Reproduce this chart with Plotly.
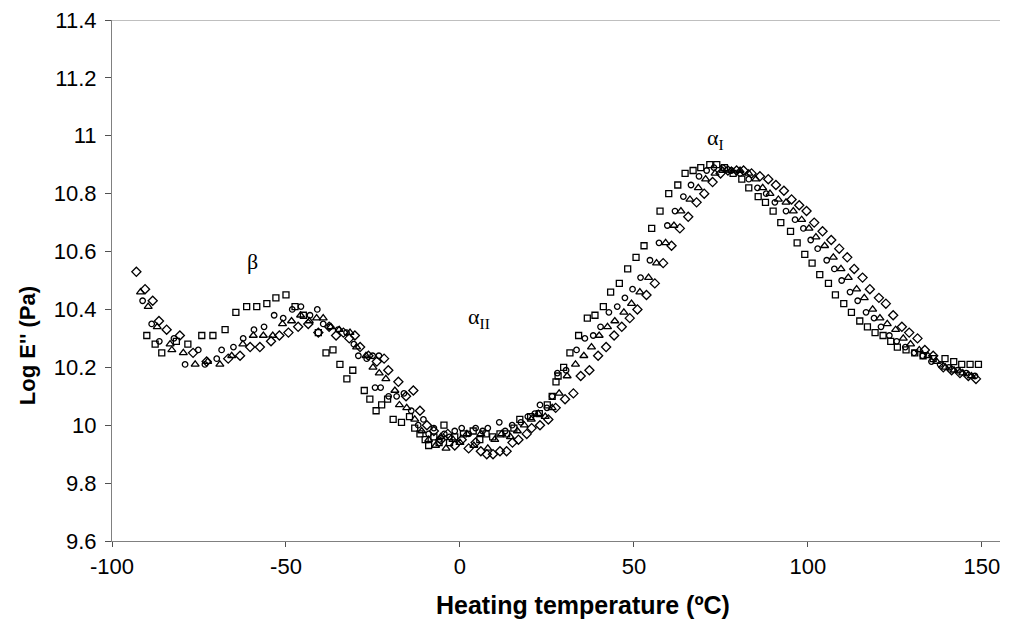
import plotly.graph_objects as go

# ---------------- data ----------------
sq_x = [-90.0, -87.6, -85.7, -81.5, -78.2, -74.2, -71.0, -67.5, -64.4, -61.3,
        -58.4, -55.5, -52.9, -50.0, -47.4, -45.0, -40.7, -38.5, -36.5, -34.5,
        -32.5, -30.8, -27.5, -25.9, -24.1, -22.5, -20.8, -19.2, -16.8, -14.5,
        -13.0, -11.5, -10.0, -9.0, -7.5, -6.0, -4.6, -3.0, -1.5, 1.0,
        3.8, 5.7, 7.5, 9.4, 11.5, 13.4, 15.5, 17.2, 20.3, 22.8,
        25.1, 26.5, 27.6, 28.2, 29.8, 31.6, 34.1, 36.6, 38.8, 41.2,
        43.3, 45.8, 48.2, 50.6, 52.9, 55.1, 57.5, 60.0, 62.6, 64.7,
        67.0, 69.2, 71.8, 73.8, 76.0, 78.5, 81.0, 83.0, 85.7, 87.8,
        90.0, 92.2, 95.0, 96.9, 99.1, 101.2, 103.4, 105.9, 107.9, 110.3,
        112.5, 114.9, 117.1, 119.3, 121.6, 123.8, 125.7, 128.2, 130.7, 133.1,
        136.0, 139.4, 141.9, 144.2, 146.6, 149.0]
sq_y = [10.31, 10.28, 10.25, 10.29, 10.28, 10.31, 10.31, 10.33, 10.39, 10.41,
        10.41, 10.42, 10.44, 10.45, 10.41, 10.38, 10.32, 10.25, 10.26, 10.21,
        10.16, 10.19, 10.12, 10.09, 10.05, 10.07, 10.09, 10.02, 10.01, 10.03,
        9.99, 9.97, 9.95, 9.93, 9.96, 9.94, 10.00, 9.94, 9.96, 9.97,
        9.98, 9.95, 9.97, 9.96, 9.97, 9.97, 9.99, 10.02, 10.03, 10.04,
        10.07, 10.10, 10.15, 10.17, 10.20, 10.25, 10.31, 10.37, 10.38, 10.41,
        10.46, 10.49, 10.54, 10.58, 10.62, 10.68, 10.74, 10.80, 10.83, 10.87,
        10.88, 10.89, 10.90, 10.90, 10.89, 10.87, 10.85, 10.82, 10.79, 10.77,
        10.74, 10.70, 10.67, 10.63, 10.59, 10.56, 10.52, 10.49, 10.45, 10.42,
        10.39, 10.36, 10.34, 10.32, 10.31, 10.29, 10.27, 10.26, 10.25, 10.24,
        10.23, 10.23, 10.22, 10.21, 10.21, 10.21]

ci_x = [-91.2, -88.6, -86.4, -82.2, -79.0, -75.2, -73.3, -69.9, -68.5, -65.1,
        -62.3, -59.2, -56.3, -53.4, -50.8, -48.2, -45.7, -43.1, -41.0, -39.3,
        -37.4, -35.0, -32.6, -30.5, -29.2, -26.8, -25.1, -23.3, -24.4, -22.8,
        -20.5, -18.2, -16.1, -14.0, -12.0, -10.5, -9.0, -7.5, -6.0, -4.5,
        -3.0, -1.5, 0.5, 2.5, 4.5, 6.5, 8.0, 11.3, 13.0, 15.0,
        17.5, 19.5, 21.5, 23.0, 25.0, 26.5, 28.0, 30.5, 33.5, 35.9,
        38.3, 40.4, 42.8, 45.2, 47.4, 49.6, 51.9, 54.6, 57.2, 59.6,
        61.8, 64.2, 66.4, 68.7, 70.9, 73.0, 75.5, 78.0, 80.5, 83.0,
        85.5, 88.0, 90.5, 93.7, 96.3, 98.7, 100.8, 102.8, 105.4, 107.6,
        109.7, 112.1, 114.3, 116.7, 119.0, 121.0, 123.4, 125.5, 128.0, 130.5,
        133.0, 135.5, 138.0, 140.5, 143.0, 145.5, 148.0]
ci_y = [10.43, 10.35, 10.29, 10.30, 10.21, 10.26, 10.21, 10.23, 10.26, 10.27,
        10.30, 10.33, 10.34, 10.38, 10.37, 10.40, 10.41, 10.38, 10.40, 10.35,
        10.34, 10.33, 10.32, 10.28, 10.24, 10.23, 10.24, 10.24, 10.13, 10.13,
        10.10, 10.10, 10.11, 10.05, 10.00, 10.02, 9.97, 9.99, 9.95, 9.97,
        9.96, 9.98, 9.99, 9.97, 9.99, 9.98, 9.99, 10.01, 9.98, 10.00,
        10.01, 10.03, 10.04, 10.07, 10.06, 10.10, 10.18, 10.19, 10.26, 10.30,
        10.31, 10.34, 10.39, 10.41, 10.44, 10.47, 10.51, 10.57, 10.63, 10.69,
        10.74, 10.79, 10.83, 10.86, 10.88, 10.89, 10.89, 10.88, 10.87, 10.85,
        10.82, 10.80, 10.77, 10.74, 10.71, 10.68, 10.64, 10.61, 10.57, 10.54,
        10.50, 10.46, 10.43, 10.39, 10.37, 10.34, 10.31, 10.29, 10.27, 10.25,
        10.24, 10.22, 10.21, 10.20, 10.19, 10.18, 10.17]

tr_x = [-91.8, -89.6, -87.0, -83.3, -82.8, -79.5, -76.1, -72.5, -69.0, -65.6,
        -62.4, -59.4, -56.5, -53.8, -51.0, -48.4, -45.8, -43.3, -41.2, -39.3,
        -37.1, -34.7, -31.6, -29.7, -27.0, -25.0, -23.2, -21.3, -18.7, -17.4,
        -15.3, -13.0, -11.0, -9.0, -7.0, -5.5, -4.0, -2.0, 0.0, 2.0,
        4.0, 6.0, 8.0, 10.0, 12.0, 14.5, 16.5, 18.5, 20.5, 22.5,
        24.5, 26.5, 28.5, 30.8, 33.2, 35.6, 37.8, 40.0, 42.4, 44.5,
        47.1, 49.3, 51.7, 54.2, 56.5, 59.1, 61.5, 63.5, 66.1, 68.5,
        70.6, 73.3, 75.5, 78.0, 80.5, 83.0, 85.0, 87.0, 89.1, 91.5,
        93.7, 95.8, 98.2, 100.3, 102.3, 104.8, 107.3, 109.5, 111.6, 114.0,
        116.2, 118.6, 120.7, 122.8, 125.2, 127.4, 129.5, 132.0, 134.5, 137.0,
        139.5, 142.0, 144.5, 147.0]
tr_y = [10.46, 10.41, 10.34, 10.28, 10.26, 10.25, 10.21, 10.22, 10.21, 10.24,
        10.28, 10.31, 10.31, 10.31, 10.35, 10.36, 10.38, 10.36, 10.37, 10.37,
        10.34, 10.33, 10.32, 10.27, 10.24, 10.20, 10.18, 10.16, 10.12, 10.07,
        10.06, 10.02, 9.98, 9.95, 9.93, 9.96, 9.92, 9.95, 9.94, 9.97,
        9.93, 9.97, 9.92, 9.95, 9.97, 9.96, 9.98, 10.00, 10.02, 10.04,
        10.03, 10.06, 10.11, 10.17, 10.21, 10.24, 10.27, 10.31, 10.34, 10.36,
        10.39, 10.42, 10.46, 10.51, 10.56, 10.63, 10.69, 10.74, 10.78, 10.82,
        10.85, 10.87, 10.88, 10.88, 10.88, 10.87, 10.85, 10.82, 10.80, 10.78,
        10.77, 10.74, 10.71, 10.68, 10.65, 10.62, 10.58, 10.54, 10.51, 10.47,
        10.44, 10.40, 10.37, 10.35, 10.33, 10.30, 10.28, 10.26, 10.24, 10.22,
        10.20, 10.19, 10.18, 10.17]

di_x = [-93.0, -90.5, -88.3, -86.5, -84.3, -80.5, -76.7, -72.8, -66.6, -63.2,
        -60.3, -57.5, -54.3, -51.9, -49.3, -46.5, -43.6, -40.7, -37.6, -35.6,
        -33.5, -31.8, -30.2, -28.7, -26.3, -23.9, -21.8, -20.6, -17.7, -15.5,
        -13.4, -11.5, -9.5, -7.5, -5.5, -3.5, -1.5, 0.5, 2.5, 4.5,
        6.0, 7.7, 9.5, 11.5, 13.4, 15.1, 16.8, 19.2, 20.6, 23.0,
        25.4, 27.5, 30.2, 32.6, 34.7, 37.2, 39.7, 42.0, 44.3, 46.5,
        48.8, 51.0, 53.6, 56.0, 58.4, 60.8, 63.2, 65.6, 68.0, 70.2,
        72.6, 74.9, 77.0, 79.5, 81.5, 83.8, 86.2, 88.6, 90.8, 93.1,
        95.3, 97.5, 99.6, 101.8, 104.2, 106.7, 109.0, 111.3, 113.3, 115.7,
        117.8, 120.4, 122.4, 124.5, 127.0, 129.1, 131.5, 133.6, 136.0, 138.9,
        141.3, 143.7, 146.1, 148.3]
di_y = [10.53, 10.47, 10.43, 10.36, 10.33, 10.31, 10.25, 10.22, 10.23, 10.24,
        10.27, 10.27, 10.29, 10.31, 10.32, 10.34, 10.35, 10.32, 10.34, 10.31,
        10.32, 10.30, 10.31, 10.27, 10.24, 10.22, 10.23, 10.19, 10.15, 10.10,
        10.12, 10.05, 10.00, 9.98, 9.95, 9.97, 9.93, 9.95, 9.92, 9.94,
        9.91, 9.90, 9.90, 9.91, 9.91, 9.94, 9.95, 9.97, 9.99, 10.00,
        10.02, 10.06, 10.09, 10.11, 10.17, 10.19, 10.24, 10.27, 10.31, 10.34,
        10.37, 10.40, 10.45, 10.49, 10.56, 10.62, 10.68, 10.72, 10.77, 10.80,
        10.84, 10.87, 10.88, 10.88, 10.88, 10.87, 10.86, 10.85, 10.83, 10.81,
        10.78, 10.76, 10.74, 10.70, 10.67, 10.64, 10.61, 10.58, 10.54, 10.51,
        10.47, 10.44, 10.42, 10.38, 10.34, 10.32, 10.30, 10.26, 10.24, 10.20,
        10.19, 10.18, 10.17, 10.16]

x_ticks = [-100, -50, 0, 50, 100, 150]
x_tick_text = ["-100", "-50", "0", "50", "100", "150"]
y_ticks = [9.6, 9.8, 10.0, 10.2, 10.4, 10.6, 10.8, 11.0, 11.2, 11.4]
y_tick_text = ["9.6", "9.8", "10", "10.2", "10.4", "10.6", "10.8", "11", "11.2", "11.4"]

labels = ["β", "α<sub>II</sub>", "α<sub>I</sub>"]
label_x = [-59.5, 5.5, 73.5]
label_y = [10.565, 10.37, 10.99]

x_title = "<b>Heating temperature (ºC)</b>"
y_title = "<b>Log E'' (Pa)</b>"

# ---------------- figure ----------------
fig = go.Figure()

series = [
    (di_x, di_y, "diamond-open", 7),
    (tr_x, tr_y, "triangle-up-open", 7),
    (ci_x, ci_y, "circle-open", 5.5),
    (sq_x, sq_y, "square-open", 6),
]
for xs, ys, sym, sz in series:
    fig.add_trace(go.Scatter(
        x=xs, y=ys, mode="markers",
        marker=dict(symbol=sym, size=sz, color="black",
                    line=dict(color="black", width=1.3)),
        showlegend=False, hoverinfo="skip"))

for t, lx, ly in zip(labels, label_x, label_y):
    fig.add_annotation(x=lx, y=ly, text=t, showarrow=False,
                       font=dict(family="Liberation Serif, DejaVu Serif, serif",
                                 size=22, color="black"))

# axis titles placed like the reference (not centred on the axes)
fig.add_annotation(xref="paper", yref="paper", x=0.530, y=-0.123, text=x_title,
                   showarrow=False, xanchor="center", yanchor="middle",
                   font=dict(size=25))
fig.add_annotation(xref="paper", yref="paper", x=-0.0957, y=0.374, text=y_title,
                   showarrow=False, xanchor="center", yanchor="middle",
                   textangle=-90, font=dict(size=22))

# top border line of the plot area
fig.add_shape(type="line", xref="paper", yref="y", x0=0, x1=1, y0=11.4, y1=11.4,
              line=dict(color="#808080", width=1.2))

fig.update_layout(
    width=1001, height=623,
    margin=dict(l=104, r=9, t=12, b=90),
    paper_bgcolor="white", plot_bgcolor="white",
    font=dict(family="Liberation Sans, Arial, sans-serif", color="black", size=22),
)
fig.update_xaxes(
    range=[-100, 155.2], tickvals=x_ticks, ticktext=x_tick_text, ticks="outside",
    ticklen=5, tickcolor="#505050", showline=True, linecolor="#808080", linewidth=1.2,
    showgrid=False, zeroline=False, ticklabelstandoff=0, automargin=False,
    ticklabeloverflow="allow",
)
fig.update_yaxes(
    range=[9.6, 11.4], tickvals=y_ticks, ticktext=y_tick_text, ticks="outside",
    ticklen=6, tickcolor="#505050", showline=True, linecolor="#808080", linewidth=1.2,
    showgrid=False, zeroline=False, ticklabelstandoff=4, automargin=False,
    ticklabeloverflow="allow",
)

fig.write_html("out.html")
